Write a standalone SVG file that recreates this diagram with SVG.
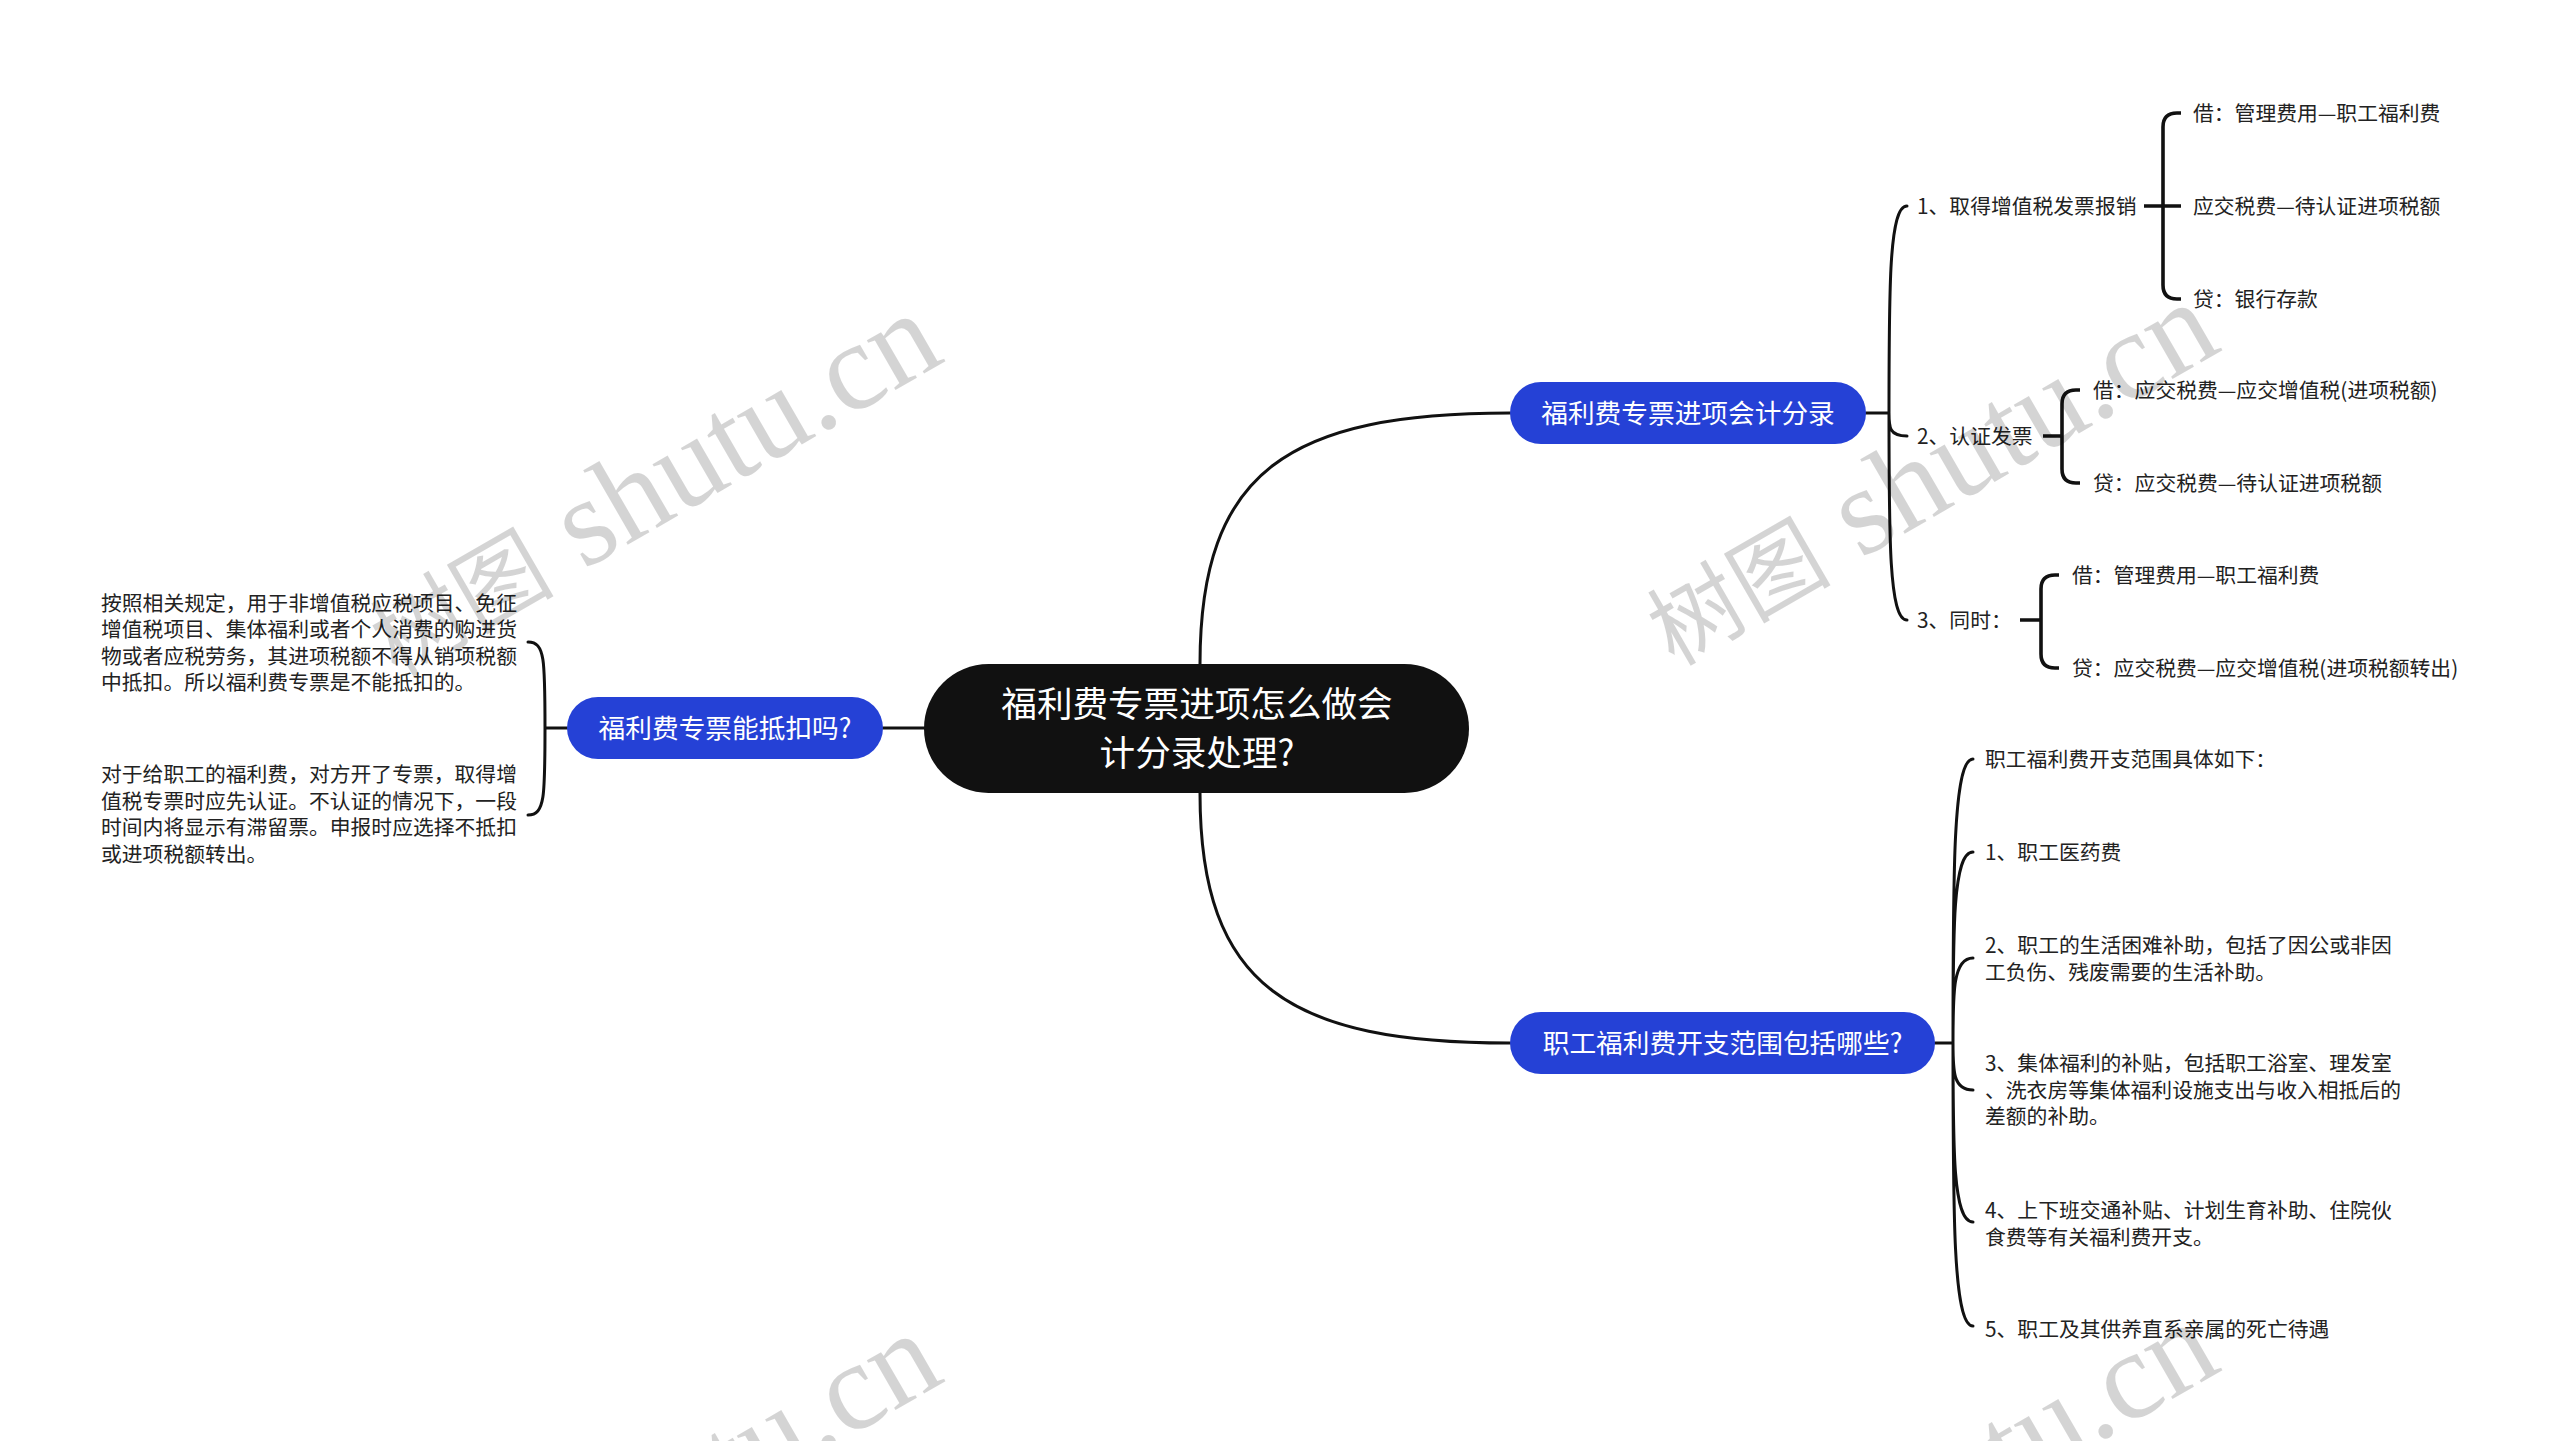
<svg xmlns="http://www.w3.org/2000/svg" width="2560" height="1441" viewBox="0 0 2560 1441">
<style>
.c{fill:none;stroke:#111;stroke-width:3;stroke-linecap:round}
.b{fill:none;stroke:#111;stroke-width:3.6;stroke-linecap:butt;stroke-linejoin:round}
.t{font-family:"Noto Sans CJK SC","Noto Sans",sans-serif;font-size:20.8px;fill:#222}
.pt{font-family:"Noto Sans CJK SC","Noto Sans",sans-serif;font-size:26.7px;fill:#fff;text-anchor:middle}
.ct{font-family:"Noto Sans CJK SC","Noto Sans",sans-serif;font-size:35.6px;fill:#fff;text-anchor:middle}
.blue{fill:#2541d6}
.wm{font-family:"Liberation Serif","Noto Sans CJK SC",serif;font-size:125px;fill:#000;fill-opacity:.17}
.wc{font-family:"Noto Sans CJK SC",serif;font-size:92px}
</style>
<rect width="2560" height="1441" fill="#fff"/>
<g id="connectors">
<path class="c" d="M1200 664 C1200 470 1290 413 1510 413"/>
<path class="c" d="M1200 793 C1200 987 1290 1043 1510 1043"/>
<path class="c" d="M924 728 L883 728"/>
<path class="c" d="M567 728 L545 728 M545 728 C545 660 545 642 528 642 M545 728 C545 796 545 815 528 815"/>
<path class="c" d="M1866 413 L1889 413 M1889 413 C1889 289 1889 206 1907 206 M1889 413 C1889 427 1889 436 1907 436 M1889 413 C1889 537 1889 620 1907 620"/>
<path class="b" d="M2144 206 L2181 206 M2163 206 L2163 127 Q2163 113 2177 113 L2181 113 M2163 206 L2163 285 Q2163 299 2177 299 L2181 299"/>
<path class="b" d="M2043 436 L2062 436 M2062 436 L2062 404 Q2062 390 2076 390 L2080 390 M2062 436 L2062 469 Q2062 483 2076 483 L2080 483"/>
<path class="b" d="M2020 620 L2041 620 M2041 620 L2041 589 Q2041 575 2055 575 L2059 575 M2041 620 L2041 654 Q2041 668 2055 668 L2059 668"/>
<path class="c" d="M1935 1043 L1953 1043 M1953 1043 C1953 873 1953 759 1973 759 M1953 1043 C1953 928 1953 852 1973 852 M1953 1043 C1953 992 1953 958 1973 958 M1953 1043 C1953 1071 1953 1090 1973 1090 M1953 1043 C1953 1150 1953 1222 1973 1222 M1953 1043 C1953 1213 1953 1326 1973 1326"/>
</g>
<g id="root">
<rect x="924" y="664" width="545" height="129" rx="64.5" fill="#111"/>
<text class="ct" x="1197" y="717">福利费专票进项怎么做会</text>
<text class="ct" x="1197" y="766">计分录处理?</text>
</g>
<g id="n1">
<rect class="blue" x="1510" y="382" width="356" height="62" rx="31"/>
<text class="pt" x="1688" y="423">福利费专票进项会计分录</text>
</g>
<g id="n2">
<rect class="blue" x="1510" y="1012" width="425" height="62" rx="31"/>
<text class="pt" x="1722.5" y="1053">职工福利费开支范围包括哪些?</text>
</g>
<g id="n3">
<rect class="blue" x="567" y="697" width="316" height="62" rx="31"/>
<text class="pt" x="725" y="738">福利费专票能抵扣吗?</text>
</g>
<g id="n3a"><text class="t" x="101" y="610.5"><tspan x="101">按照相关规定，用于非增值税应税项目、免征</tspan><tspan x="101" dy="26.6">增值税项目、集体福利或者个人消费的购进货</tspan><tspan x="101" dy="26.6">物或者应税劳务，其进项税额不得从销项税额</tspan><tspan x="101" dy="26.6">中抵扣。所以福利费专票是不能抵扣的。</tspan></text></g>
<g id="n3b"><text class="t" x="101" y="782"><tspan x="101">对于给职工的福利费，对方开了专票，取得增</tspan><tspan x="101" dy="26.6">值税专票时应先认证。不认证的情况下，一段</tspan><tspan x="101" dy="26.6">时间内将显示有滞留票。申报时应选择不抵扣</tspan><tspan x="101" dy="26.6">或进项税额转出。</tspan></text></g>
<g id="n1a"><text class="t" x="1917" y="214">1、取得增值税发票报销</text></g>
<g id="n1a1"><text class="t" x="2193" y="121">借：管理费用—职工福利费</text></g>
<g id="n1a2"><text class="t" x="2193" y="214">应交税费—待认证进项税额</text></g>
<g id="n1a3"><text class="t" x="2193" y="307">贷：银行存款</text></g>
<g id="n1b"><text class="t" x="1917" y="444">2、认证发票</text></g>
<g id="n1b1"><text class="t" x="2093" y="398">借：应交税费—应交增值税(进项税额)</text></g>
<g id="n1b2"><text class="t" x="2093" y="491">贷：应交税费—待认证进项税额</text></g>
<g id="n1c"><text class="t" x="1917" y="628">3、同时：</text></g>
<g id="n1c1"><text class="t" x="2072" y="583">借：管理费用—职工福利费</text></g>
<g id="n1c2"><text class="t" x="2072" y="676">贷：应交税费—应交增值税(进项税额转出)</text></g>
<g id="n2a"><text class="t" x="1985" y="767">职工福利费开支范围具体如下：</text></g>
<g id="n2b"><text class="t" x="1985" y="860">1、职工医药费</text></g>
<g id="n2c"><text class="t" x="1985" y="953"><tspan x="1985">2、职工的生活困难补助，包括了因公或非因</tspan><tspan x="1985" dy="26.6">工负伤、残废需要的生活补助。</tspan></text></g>
<g id="n2d"><text class="t" x="1985" y="1071"><tspan x="1985">3、集体福利的补贴，包括职工浴室、理发室</tspan><tspan x="1985" dy="26.6">、洗衣房等集体福利设施支出与收入相抵后的</tspan><tspan x="1985" dy="26.6">差额的补助。</tspan></text></g>
<g id="n2e"><text class="t" x="1985" y="1218"><tspan x="1985">4、上下班交通补贴、计划生育补助、住院伙</tspan><tspan x="1985" dy="26.6">食费等有关福利费开支。</tspan></text></g>
<g id="n2f"><text class="t" x="1985" y="1337">5、职工及其供养直系亲属的死亡待遇</text></g>
<g id="watermarks">
<text class="wm" transform="translate(397 678) rotate(-30)"><tspan class="wc">树图</tspan> shutu.cn</text>
<text class="wm" transform="translate(1674 667) rotate(-30)"><tspan class="wc">树图</tspan> shutu.cn</text>
<text class="wm" transform="translate(397 1698) rotate(-30)"><tspan class="wc">树图</tspan> shutu.cn</text>
<text class="wm" transform="translate(1674 1687) rotate(-30)"><tspan class="wc">树图</tspan> shutu.cn</text>
</g>
</svg>
